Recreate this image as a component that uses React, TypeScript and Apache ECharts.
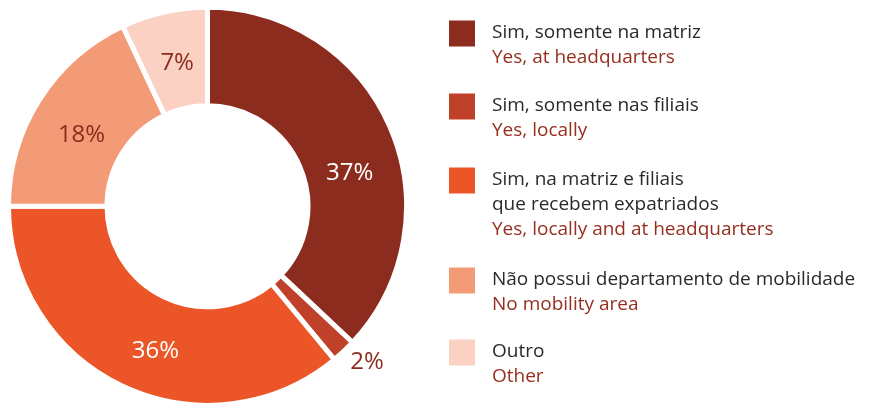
import React, { useEffect, useRef } from "react";
import * as echarts from "echarts";

const categories = [
  "Sim, somente na matriz",
  "Sim, somente nas filiais",
  "Sim, na matriz e filiais\nque recebem expatriados",
  "Não possui departamento de mobilidade",
  "Outro",
];
const englishNames = [
  "Yes, at headquarters",
  "Yes, locally",
  "Yes, locally and at headquarters",
  "No mobility area",
  "Other",
];
const values = [37, 2, 36, 18, 7];

const colors = ["#8C2C1E", "#C0412A", "#EB5527", "#F39A77", "#FBD1C4"];
const labelColors = ["#FFFFFF", "#8C2C1E", "#FFFFFF", "#8C2C1E", "#8C2C1E"];
const labelShift: [number, number][] = [
  [2, 25],
  [55, 42],
  [13, 4],
  [3, 8],
  [3, 3],
];
const legendIconTops = [20, 93, 167, 267, 339];

const FONT = "'Open Sans', 'Noto Sans', sans-serif";
const DARK = "#2A2A2A";
const RED = "#962F20";
const LINE_H = 25;

export default function App() {
  const ref = useRef<HTMLDivElement>(null);
  useEffect(() => {
    if (!ref.current) return;
    const chart = echarts.init(ref.current, undefined, { renderer: "svg" });
    const nameToIdx: Record<string, number> = {};
    categories.forEach((c, i) => (nameToIdx[c] = i));

    const legends = categories.map((name, i) => {
      const lines = name.split("\n").length + 1;
      const h = lines * LINE_H;
      const pad = h - 30;
      return {
        orient: "vertical",
        left: 447,
        top: legendIconTops[i] - 1.5,
        padding: 0,
        itemWidth: 28,
        itemHeight: 28,
        itemGap: 0,
        icon: "rect",
        selectedMode: false,
        data: [
          {
            name,
            textStyle: { padding: [pad, 0, 0, 0] },
          },
        ],
        formatter: (n: string) => {
          const idx = nameToIdx[n];
          const pt = n
            .split("\n")
            .map((l) => `{pt|${l}}`)
            .join("\n");
          return `${pt}\n{en|${englishNames[idx]}}`;
        },
        textStyle: {
          rich: {
            pt: {
              fontFamily: FONT,
              fontSize: 19,
              color: DARK,
              lineHeight: LINE_H,
              padding: [0, 0, 0, 11],
            },
            en: {
              fontFamily: FONT,
              fontSize: 19,
              color: RED,
              lineHeight: LINE_H,
              padding: [0, 0, 0, 11],
            },
          },
        },
      };
    });

    chart.setOption({
      animation: false,
      color: colors,
      legend: legends,
      series: [
        {
          type: "pie",
          center: [207.5, 206.3],
          radius: [100.5, 199],
          startAngle: 90,
          clockwise: true,
          avoidLabelOverlap: false,
          itemStyle: { borderColor: "#FFFFFF", borderWidth: 5 },
          emphasis: { disabled: true },
          labelLine: { show: false },
          label: {
            show: true,
            position: "inside",
            fontFamily: FONT,
            fontSize: 24,
            formatter: "{c}%",
          },
          labelLayout: (p: any) => ({
            dx: labelShift[p.dataIndex][0],
            dy: labelShift[p.dataIndex][1],
          }),
          data: categories.map((name, i) => ({
            name,
            value: values[i],
            label: { color: labelColors[i] },
          })),
        },
      ],
    });
    return () => chart.dispose();
  }, []);
  return (
    <div
      ref={ref}
      style={{ position: "fixed", left: 0, top: 0, width: 871, height: 403 }}
    />
  );
}
